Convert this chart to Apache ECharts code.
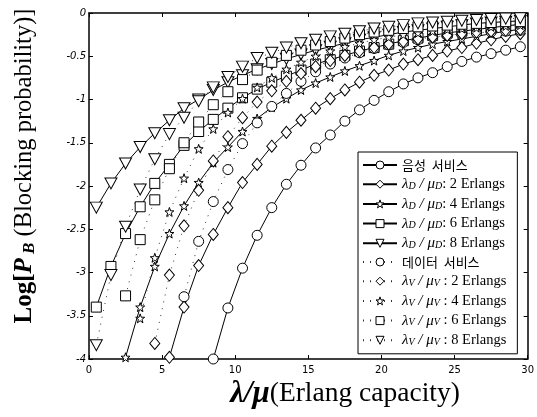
<!DOCTYPE html>
<html>
<head>
<meta charset="utf-8">
<script src="https://cdn.jsdelivr.net/npm/echarts@6/dist/echarts.min.js"></script>
<style>
html,body{margin:0;padding:0;background:#fff;}
#c{width:537px;height:417px;}
</style>
</head>
<body>
<div id="c"></div>
<script>
// ---- data ----
const xs = [0.5,1.5,2.5,3.5,4.5,5.5,6.5,7.5,8.5,9.5,10.5,11.5,12.5,13.5,14.5,15.5,16.5,17.5,18.5,19.5,20.5,21.5,22.5,23.5,24.5,25.5,26.5,27.5,28.5,29.5];
const xTicks = [0,5,10,15,20,25,30];
const yTicks = [0,-0.5,-1,-1.5,-2,-2.5,-3,-3.5,-4];

// voice service (solid lines)
const voice   = [null,null,null,null,null,null,null,null,-4.00,-3.41,-2.95,-2.57,-2.25,-1.98,-1.76,-1.56,-1.41,-1.25,-1.12,-1.01,-0.91,-0.82,-0.75,-0.69,-0.62,-0.56,-0.51,-0.47,-0.43,-0.39];
const voiceD2 = [null,null,null,null,null,-3.98,-3.40,-2.92,-2.56,-2.25,-1.96,-1.75,-1.54,-1.38,-1.24,-1.10,-0.99,-0.89,-0.80,-0.72,-0.66,-0.59,-0.54,-0.49,-0.44,-0.40,-0.35,-0.31,-0.27,-0.24];
const voiceD4 = [null,null,-3.98,-3.40,-2.93,-2.55,-2.23,-1.96,-1.73,-1.55,-1.37,-1.22,-1.09,-0.99,-0.89,-0.81,-0.74,-0.67,-0.61,-0.55,-0.49,-0.44,-0.40,-0.36,-0.33,-0.30,-0.27,-0.24,-0.21,-0.19];
const voiceD6 = [-3.40,-2.93,-2.55,-2.24,-1.97,-1.75,-1.53,-1.37,-1.23,-1.10,-0.98,-0.88,-0.80,-0.73,-0.66,-0.59,-0.54,-0.49,-0.44,-0.40,-0.36,-0.32,-0.29,-0.26,-0.23,-0.21,-0.19,-0.17,-0.15,-0.13];
const voiceD8 = [-2.25,-1.97,-1.74,-1.55,-1.39,-1.24,-1.10,-1.00,-0.89,-0.80,-0.72,-0.65,-0.59,-0.53,-0.48,-0.43,-0.39,-0.35,-0.31,-0.28,-0.25,-0.22,-0.20,-0.18,-0.16,-0.14,-0.12,-0.11,-0.10,-0.09];

// data service (dotted lines)
const dataS   = [null,null,null,null,null,null,-3.28,-2.64,-2.18,-1.81,-1.51,-1.27,-1.08,-0.93,-0.79,-0.68,-0.59,-0.52,-0.46,-0.41,-0.37,-0.34,-0.31,-0.28,-0.26,-0.24,-0.23,-0.22,-0.21,-0.20];
const dataV2  = [null,null,null,null,-3.82,-3.03,-2.46,-2.05,-1.71,-1.43,-1.21,-1.03,-0.90,-0.79,-0.70,-0.62,-0.55,-0.49,-0.44,-0.40,-0.36,-0.33,-0.30,-0.28,-0.26,-0.24,-0.22,-0.21,-0.20,-0.19];
const dataV4  = [null,null,null,-3.53,-2.83,-2.30,-1.91,-1.57,-1.34,-1.15,-0.99,-0.86,-0.75,-0.65,-0.57,-0.50,-0.44,-0.39,-0.35,-0.31,-0.28,-0.25,-0.23,-0.21,-0.19,-0.18,-0.17,-0.16,-0.15,-0.14];
const dataV6  = [null,null,-3.27,-2.62,-2.16,-1.80,-1.50,-1.26,-1.06,-0.91,-0.77,-0.66,-0.57,-0.49,-0.43,-0.37,-0.33,-0.29,-0.25,-0.22,-0.20,-0.18,-0.16,-0.15,-0.14,-0.13,-0.12,-0.11,-0.10,-0.10];
const dataV8  = [-3.84,-3.03,-2.47,-2.04,-1.69,-1.40,-1.21,-1.02,-0.86,-0.74,-0.62,-0.52,-0.46,-0.40,-0.35,-0.31,-0.27,-0.24,-0.21,-0.18,-0.16,-0.14,-0.12,-0.11,-0.10,-0.09,-0.08,-0.07,-0.065,-0.06];

const seriesNames = ['음성 서비스','λD/μD: 2 Erlangs','λD/μD: 4 Erlangs','λD/μD: 6 Erlangs','λD/μD: 8 Erlangs',
                     '데이터 서비스','λV/μV: 2 Erlangs','λV/μV: 4 Erlangs','λV/μV: 6 Erlangs','λV/μV: 8 Erlangs'];
const legendLabels = {
  '음성 서비스':'{k|음성  서비스}',
  'λD/μD: 2 Erlangs':'{g|λ}{s|D}{g| / μ}{s|D}: 2 Erlangs',
  'λD/μD: 4 Erlangs':'{g|λ}{s|D}{g| / μ}{s|D}: 4 Erlangs',
  'λD/μD: 6 Erlangs':'{g|λ}{s|D}{g| / μ}{s|D}: 6 Erlangs',
  'λD/μD: 8 Erlangs':'{g|λ}{s|D}{g| / μ}{s|D}: 8 Erlangs',
  '데이터 서비스':'{k|데이터  서비스}',
  'λV/μV: 2 Erlangs':'{g|λ}{s|V}{g| / μ}{s|V} : 2 Erlangs',
  'λV/μV: 4 Erlangs':'{g|λ}{s|V}{g| / μ}{s|V} : 4 Erlangs',
  'λV/μV: 6 Erlangs':'{g|λ}{s|V}{g| / μ}{s|V} : 6 Erlangs',
  'λV/μV: 8 Erlangs':'{g|λ}{s|V}{g| / μ}{s|V} : 8 Erlangs'
};
// ---- end data ----

const STAR = 'path://M0,-10L2.35,-3.24L9.51,-3.09L3.8,1.24L5.88,8.09L0,4L-5.88,8.09L-3.8,1.24L-9.51,-3.09L-2.35,-3.24Z';
const TRI_DOWN = 'path://M0,10L-8.66,-5L8.66,-5Z';
const symbols = [['circle',10],['diamond',[10,12]],[STAR,9],['rect',10],[TRI_DOWN,[12,11]]];
const values = [voice,voiceD2,voiceD4,voiceD6,voiceD8,dataS,dataV2,dataV4,dataV6,dataV8];

const series = values.map((vals,i)=>{
  const dotted = i>=5;
  const sym = symbols[i%5];
  return {
    name: seriesNames[i],
    type:'line',
    data: xs.map((x,j)=>[x, vals[j]]),
    symbol: sym[0],
    symbolSize: sym[1],
    showAllSymbol: true,
    connectNulls:false,
    itemStyle:{color:'#fff', borderColor:'#000', borderWidth:1},
    lineStyle: dotted ? {color:'#333', width:1, type:[1,6]} : {color:'#000', width:1, type:'solid'},
    emphasis:{disabled:true},
    z: 2
  };
});

const axisLineStyle = {color:'#000', width:1.5};
const chart = echarts.init(document.getElementById('c'), null, {renderer:'canvas'});
chart.setOption({
  animation:false,
  backgroundColor:'#fff',
  grid:{left:89, right:4, top:13, bottom:58},
  xAxis:[
    {type:'value', min:0, max:30, interval:5, position:'bottom',
     axisLine:{onZero:false, lineStyle:axisLineStyle},
     axisTick:{inside:true, length:4, lineStyle:{color:'#000'}},
     axisLabel:{color:'#000', fontSize:10, margin:6, fontFamily:'DejaVu Sans',
       formatter:(v)=> xTicks.indexOf(v)>=0 ? String(v) : ''},
     splitLine:{show:false}},
    {type:'value', min:0, max:30, interval:5, position:'top',
     axisLine:{onZero:false, lineStyle:axisLineStyle},
     axisTick:{inside:true, length:4, lineStyle:{color:'#000'}},
     axisLabel:{show:false}, splitLine:{show:false}}
  ],
  yAxis:[
    {type:'value', min:-4, max:0, interval:0.5, position:'left',
     axisLine:{onZero:false, lineStyle:axisLineStyle},
     axisTick:{inside:true, length:4, lineStyle:{color:'#000'}},
     axisLabel:{color:'#000', fontSize:10, margin:3, fontStyle:'italic', fontFamily:'DejaVu Sans',
       formatter:(v)=> yTicks.indexOf(v)>=0 ? String(v) : ''},
     splitLine:{show:false}},
    {type:'value', min:-4, max:0, interval:0.5, position:'right',
     axisLine:{onZero:false, lineStyle:axisLineStyle},
     axisTick:{inside:true, length:4, lineStyle:{color:'#000'}},
     axisLabel:{show:false}, splitLine:{show:false}}
  ],
  legend:{
    orient:'vertical', left:358, top:152,
    data: seriesNames,
    itemWidth:34, itemHeight:10, itemGap:4.2,
    padding:[6,11,6,4],
    borderColor:'#000', borderWidth:1, backgroundColor:'#fff',
    selectedMode:false,
    itemStyle:{color:'#fff', borderColor:'#000', borderWidth:1},
    formatter:(n)=>legendLabels[n],
    textStyle:{color:'#000', fontFamily:'Liberation Serif', fontSize:14.5, lineHeight:14,
      rich:{
        g:{fontFamily:'Liberation Serif', fontStyle:'italic', fontSize:15, color:'#000', lineHeight:14},
        s:{fontFamily:'Liberation Serif', fontStyle:'italic', fontSize:10, color:'#000', lineHeight:14, verticalAlign:'bottom', padding:[5,0,0,0]},
        k:{fontFamily:'Noto Sans CJK KR', fontSize:13, color:'#000', lineHeight:14}
      }}
  },
  graphic:[
    {type:'text', x:25, y:166, rotation:Math.PI/2,
     style:{
       text:'{b|Log[}{bi|P}{sb| B}{r| (Blocking probability)]}',
       align:'center', verticalAlign:'middle',
       rich:{
         b:{fontFamily:'Liberation Serif', fontWeight:'bold', fontSize:25, fill:'#000'},
         bi:{fontFamily:'Liberation Serif', fontWeight:'bold', fontStyle:'italic', fontSize:25, fill:'#000'},
         sb:{fontFamily:'Liberation Serif', fontWeight:'bold', fontStyle:'italic', fontSize:17, fill:'#000', padding:[10,0,0,0]},
         r:{fontFamily:'Liberation Serif', fontSize:24.5, fill:'#000'}
       }}},
    {type:'text', x:345, y:394,
     style:{
       text:'{bi|λ/μ}{r|(Erlang capacity)}',
       align:'center', verticalAlign:'middle',
       rich:{
         bi:{fontFamily:'Liberation Serif', fontWeight:'bold', fontStyle:'italic', fontSize:31, fill:'#000'},
         r:{fontFamily:'Liberation Serif', fontSize:27.5, fill:'#000'}
       }}}
  ],
  series: series
});
</script>
</body>
</html>
